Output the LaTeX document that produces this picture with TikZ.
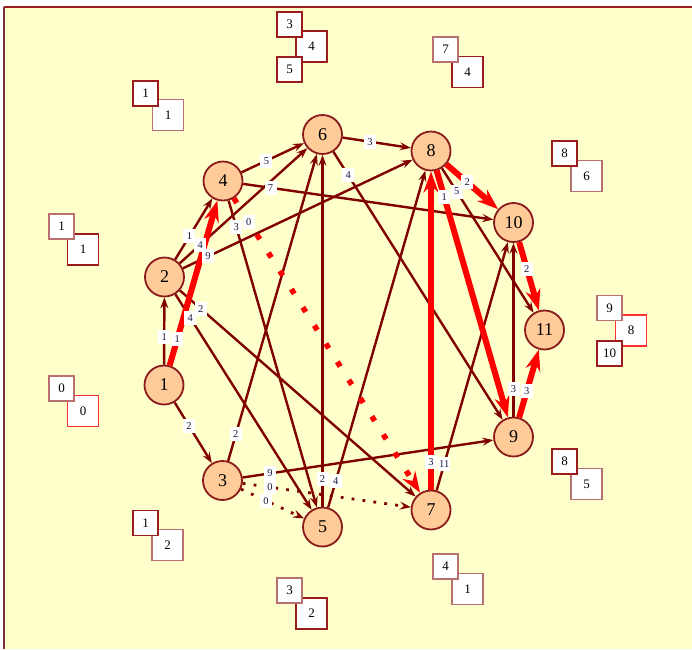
\documentclass[tikz,border=0pt]{standalone}
\usepackage{fontspec}
\setmainfont{Liberation Serif}
\usetikzlibrary{arrows.meta,calc}
\definecolor{bg}{HTML}{FFFFCC}
\definecolor{edgec}{HTML}{800000}
\definecolor{nodefill}{HTML}{FFCC99}
\definecolor{nodeline}{HTML}{8B1A1A}
\definecolor{boxdark}{HTML}{9B1C1C}
\definecolor{boxrose}{HTML}{B87070}
\definecolor{boxred}{HTML}{FF3030}
\definecolor{lbltext}{HTML}{1A1A40}
\definecolor{frameleft}{HTML}{7A3040}
\begin{document}
\begin{tikzpicture}[x=1pt,y=-1pt,
  vtx/.style={circle,draw=nodeline,line width=1.8pt,fill=nodefill,minimum size=39pt,inner sep=0pt,font=\fontsize{18}{18}\selectfont},
  plainedge/.style={draw=edgec,line width=2.4pt,-{Stealth[length=11pt,width=8pt,inset=4pt]}},
  dotedge/.style={draw=edgec,line width=2.8pt,line cap=butt,dash pattern=on 2.8pt off 8.2pt,-{Stealth[length=11pt,width=8pt,inset=4pt]}},
  rededge/.style={draw=red,line width=6pt,-{Stealth[length=21pt,width=15pt,inset=7pt]}},
  reddotedge/.style={draw=red,line width=5.5pt,line cap=butt,dash pattern=on 5.5pt off 16pt,-{Stealth[length=21pt,width=15pt,inset=7pt]}},
  elab/.style={fill=white,inner sep=1pt,minimum width=12pt,minimum height=14pt,font=\fontsize{10.5}{10.5}\selectfont,text=lbltext},
  sbox/.style={draw=#1,fill=white,line width=1.3pt,minimum width=25pt,minimum height=25pt,inner sep=0pt,font=\fontsize{13}{13}\selectfont},
  lbox/.style={draw=#1,fill=white,line width=1.3pt,minimum width=31pt,minimum height=31pt,inner sep=0pt,font=\fontsize{13}{13}\selectfont}
]
\useasboundingbox (0,0) rectangle (692,649);
\fill[white] (0,0) rectangle (692,649);
\fill[bg] (4,7) rectangle (692,649);
\draw[frameleft,line width=1.2pt] (4,649) -- (4,7);
\draw[boxdark,line width=1.2pt] (4,7) -- (692,7);

% vertices
\node[vtx] (v1) at (164,385) {1};
\node[vtx] (v2) at (164.5,277) {2};
\node[vtx] (v3) at (222.5,480.5) {3};
\node[vtx] (v4) at (223,181) {4};
\node[vtx] (v5) at (322.5,527) {5};
\node[vtx] (v6) at (322.5,134.5) {6};
\node[vtx] (v7) at (431,510) {7};
\node[vtx] (v8) at (431,151) {8};
\node[vtx] (v9) at (513.5,437) {9};
\node[vtx] (v10) at (513.5,222.5) {10};
\node[vtx] (v11) at (544.5,330) {11};

% thin edges
\foreach \a/\b in {1/2,1/3,2/4,2/6,2/8,2/7,2/5,3/6,3/9,4/6,4/10,4/5,5/6,5/8,6/8,6/9,7/10,8/11,9/10}
  \draw[plainedge] (v\a) -- (v\b);
% dotted edges
\foreach \a/\b in {3/7,3/5}
  \draw[dotedge] (v\a) -- (v\b);
\draw[reddotedge] (v4) -- (v7);
% red edges
\foreach \a/\b in {1/4,7/8,8/10,8/9,9/11,10/11}
  \draw[rededge] (v\a) -- (v\b);

% edge labels
\foreach \a/\b/\l in {1/2/1,1/3/2,1/4/1,2/4/1,2/6/4,2/8/9,2/7/2,2/5/4,3/6/2,3/9/9,3/7/0,3/5/0,4/6/5,4/10/7,4/5/3,4/7/0,5/6/2,5/8/4,6/8/3,6/9/4,7/8/3,7/10/11,8/10/2,8/9/1,8/11/5,9/10/3,9/11/3,10/11/2}
  \node[elab] (l\a-\b) at ($(v\a)!48pt!(v\b)$) {\l};

% state boxes (large first, small on top)
\node[lbox=boxred]  (a2) at (83,411) {0};
\node[sbox=boxrose] (a1) at (61.5,388.5) {0};
\node[lbox=boxdark] (b2) at (83,249.5) {1};
\node[sbox=boxrose] (b1) at (61.5,226.5) {1};
\node[lbox=boxrose] (c2) at (168,115) {1};
\node[sbox=boxdark] (c1) at (145.5,93.5) {1};
\node[lbox=boxdark] (d2) at (311.5,46.5) {4};
\node[sbox=boxdark] (d1) at (289.5,24.5) {3};
\node[sbox=boxdark] (d3) at (289.5,69.5) {5};
\node[lbox=boxdark] (e2) at (467.5,72) {4};
\node[sbox=boxrose] (e1) at (445.5,49.5) {7};
\node[lbox=boxrose] (f2) at (586.5,176) {6};
\node[sbox=boxdark] (f1) at (564.5,153.5) {8};
\node[lbox=boxred]  (g2) at (631,330.5) {8};
\node[sbox=boxrose] (g1) at (609.5,308) {9};
\node[sbox=boxdark] (g3) at (609.5,353.5) {10};
\node[lbox=boxrose] (h2) at (586.5,484) {5};
\node[sbox=boxdark] (h1) at (564.5,461.5) {8};
\node[lbox=boxrose] (i2) at (467.5,589) {1};
\node[sbox=boxrose] (i1) at (445.5,566.5) {4};
\node[lbox=boxdark] (j2) at (311.5,613.5) {2};
\node[sbox=boxrose] (j1) at (289.5,590.5) {3};
\node[lbox=boxrose] (k2) at (167.5,545) {2};
\node[sbox=boxdark] (k1) at (145.5,523) {1};
\end{tikzpicture}
\end{document}
